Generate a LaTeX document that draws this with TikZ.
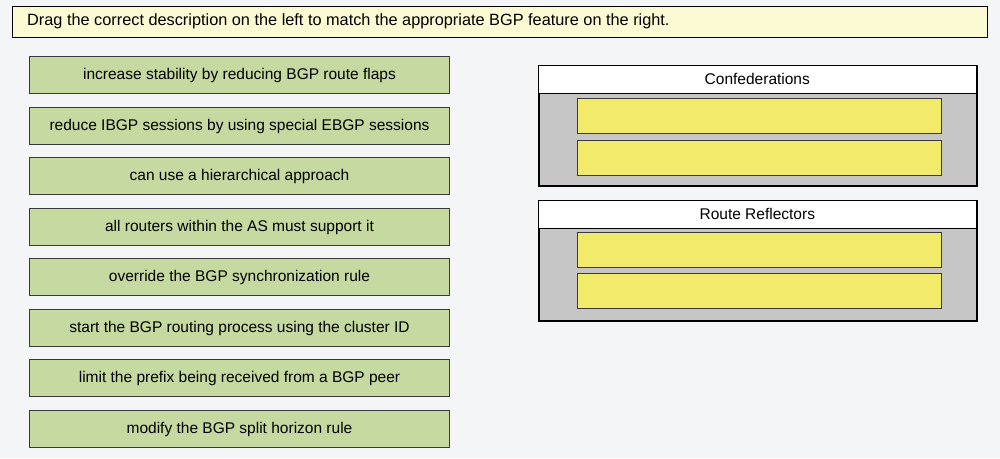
\documentclass[tikz,border=0pt]{standalone}
\usepackage{fontspec}
\setmainfont{Liberation Sans}
\definecolor{bgc}{HTML}{F4F5F7}
\definecolor{bannerc}{HTML}{FCFAD2}
\definecolor{greenc}{HTML}{C6D9A0}
\definecolor{yellowc}{HTML}{F2EA6A}
\definecolor{grayc}{HTML}{C6C6C6}
\definecolor{edgec}{HTML}{3A3A3A}
\begin{document}
\begin{tikzpicture}[x=1pt,y=-1pt,
  desc/.style={draw=edgec,line width=1pt,fill=greenc,minimum width=420pt,minimum height=37pt,inner sep=0pt,font=\fontsize{15.5}{17}\selectfont,anchor=north west},
  slot/.style={draw=edgec,line width=1pt,fill=yellowc,minimum width=364pt,minimum height=35pt,inner sep=0pt,anchor=north west},
  panel/.style={draw=black,line width=1.5pt,fill=grayc,minimum width=438pt,minimum height=120pt,inner sep=0pt,anchor=north west},
  header/.style={draw=black,line width=0.6pt,fill=white,minimum width=438pt,minimum height=28pt,inner sep=0pt,anchor=north west,font=\fontsize{15.5}{17}\selectfont}]
\fill[bgc] (0,0) rectangle (1000,458);
\useasboundingbox (0,0) rectangle (1000,458);
% banner
\node[draw=black,line width=1pt,fill=bannerc,minimum width=975pt,minimum height=31pt,inner sep=0pt,anchor=north west] (banner) at (12,6) {};
\node[anchor=west,inner sep=0pt,font=\fontsize{16.3}{18}\selectfont] (bannertext) at (27,21.5) {Drag the correct description on the left to match the appropriate BGP feature on the right.};
% left descriptions
\node[desc] (d1) at (29,56) {increase stability by reducing BGP route flaps};
\node[desc] (d2) at (29,107) {reduce IBGP sessions by using special EBGP sessions};
\node[desc] (d3) at (29,157) {can use a hierarchical approach};
\node[desc] (d4) at (29,208) {all routers within the AS must support it};
\node[desc] (d5) at (29,258) {override the BGP synchronization rule};
\node[desc] (d6) at (29,309) {start the BGP routing process using the cluster ID};
\node[desc] (d7) at (29,359) {limit the prefix being received from a BGP peer};
\node[desc] (d8) at (29,410) {modify the BGP split horizon rule};
% panel 1
\node[panel] (p1) at (538,65) {};
\node[header] (h1) at (538,65) {Confederations};
\node[slot] (s11) at (577,98) {};
\node[slot] (s12) at (577,140) {};
% panel 2
\node[panel] (p2) at (538,200) {};
\node[header] (h2) at (538,200) {Route Reflectors};
\node[slot] (s21) at (577,232) {};
\node[slot] (s22) at (577,273) {};
\end{tikzpicture}
\end{document}
